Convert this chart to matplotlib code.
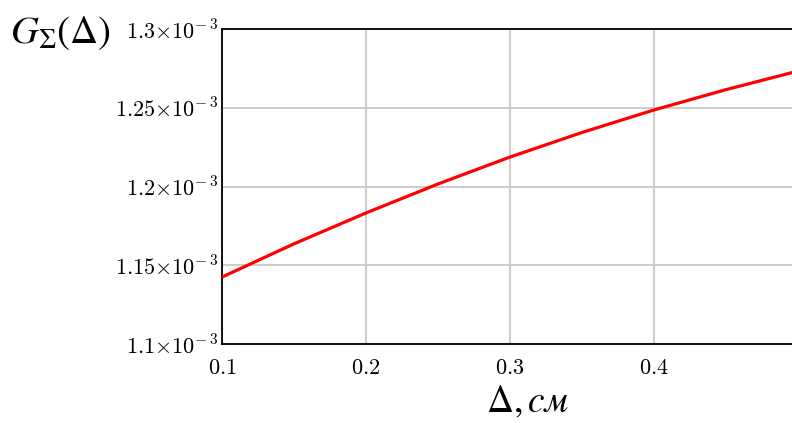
import matplotlib
matplotlib.use("Agg")
import matplotlib.pyplot as plt

# data
delta_cm = [0.10, 0.15, 0.20, 0.25, 0.30, 0.35, 0.40, 0.45, 0.50]
g_sigma = [1.1425e-3, 1.1636e-3, 1.1832e-3, 1.2016e-3, 1.2187e-3,
           1.2343e-3, 1.2486e-3, 1.2615e-3, 1.2733e-3]
x_ticks = [0.1, 0.2, 0.3, 0.4]
x_tick_labels = ["0.1", "0.2", "0.3", "0.4"]
y_ticks = [1.10e-3, 1.15e-3, 1.20e-3, 1.25e-3, 1.30e-3]
y_tick_labels = [r"$1.1{\times}10^{-\,3}$", r"$1.15{\times}10^{-\,3}$",
                 r"$1.2{\times}10^{-\,3}$", r"$1.25{\times}10^{-\,3}$",
                 r"$1.3{\times}10^{-\,3}$"]

W, H = 792, 423
fig = plt.figure(figsize=(W / 100, H / 100), dpi=100)
left, right, top, bottom = 222, 798, 29, 344
ax = fig.add_axes([left / W, (H - bottom) / H, (right - left) / W, (bottom - top) / H])

ax.plot(delta_cm, g_sigma, color="#ff0000", lw=2.3, solid_capstyle="butt", zorder=3)
ax.set_xlim(0.1, 0.5)
ax.set_ylim(1.1e-3, 1.3e-3)
ax.set_xticks(x_ticks)
ax.set_yticks(y_ticks)
ax.set_xticklabels([r"$%s$" % s for s in x_tick_labels])
ax.set_yticklabels(y_tick_labels)
for t in ax.get_xticklabels() + ax.get_yticklabels():
    t.set_math_fontfamily("cm")
    t.set_fontsize(16)
ax.tick_params(axis="both", length=0)
ax.tick_params(axis="x", pad=10)
ax.tick_params(axis="y", pad=3)

ax.grid(True, color="#c8c8c8", lw=1.3)
ax.set_axisbelow(True)
for s in ["left", "bottom", "top", "right"]:
    ax.spines[s].set_color("black")
    ax.spines[s].set_linewidth(1.3)

fig.text(10 / W, 1 - 33 / H, r"$G_{\Sigma}\left(\Delta\right)$", fontsize=28,
         math_fontfamily="stix", va="center", ha="left")
fig.text(527 / W, 1 - 402 / H, r"$\Delta,\mathit{см}$", fontsize=27,
         math_fontfamily="stix", va="center", ha="center",
         family=["Liberation Serif", "DejaVu Serif"])

fig.savefig("out.png", dpi=100)
